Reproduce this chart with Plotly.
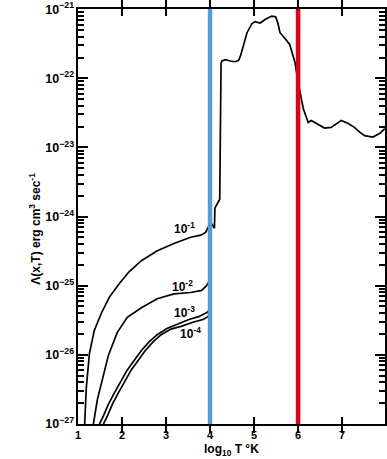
import plotly.graph_objects as go

# Cooling function Lambda(x, T) versus log10 T, for several ionisation fractions x.
# Values are log10 of Lambda in erg cm^3 s^-1.

# low-temperature branches, one per ionisation fraction
logt_x1 = [1.13, 1.15, 1.19, 1.26, 1.37, 1.53, 1.71, 1.94, 2.16, 2.44, 2.79, 3.18, 3.56, 3.79, 3.90, 3.97]
lam_x1 = [-27.3, -27.0, -26.47, -25.98, -25.65, -25.40, -25.17, -24.97, -24.80, -24.64, -24.50, -24.39, -24.30, -24.27, -24.23, -24.14]

logt_x2 = [1.33, 1.35, 1.44, 1.56, 1.69, 1.89, 2.12, 2.44, 2.80, 3.18, 3.56, 3.81, 3.92, 3.99]
lam_x2 = [-27.3, -27.0, -26.65, -26.32, -26.01, -25.68, -25.46, -25.32, -25.19, -25.12, -25.10, -25.07, -25.00, -24.93]

logt_x3 = [1.47, 1.49, 1.56, 1.69, 1.83, 1.98, 2.12, 2.28, 2.44, 2.62, 2.80, 3.02, 3.25, 3.52, 3.74, 3.93, 3.99]
lam_x3 = [-27.3, -27.0, -26.91, -26.72, -26.55, -26.37, -26.22, -26.08, -25.94, -25.81, -25.71, -25.62, -25.56, -25.49, -25.45, -25.39, -25.35]

logt_x4 = [1.56, 1.58, 1.65, 1.78, 1.92, 2.07, 2.21, 2.37, 2.53, 2.71, 2.89, 3.11, 3.34, 3.61, 3.84, 3.95, 3.99]
lam_x4 = [-27.3, -27.0, -26.91, -26.72, -26.55, -26.37, -26.22, -26.08, -25.94, -25.81, -25.71, -25.63, -25.59, -25.53, -25.49, -25.45, -25.42]

# high-temperature branch, common to all x
logt_hot = [3.97, 4.03, 4.10, 4.11, 4.22, 4.23, 4.235, 4.24, 4.25, 4.27, 4.35, 4.46, 4.57, 4.65,
            4.69, 4.77, 4.84, 4.95, 5.02, 5.14, 5.25, 5.40, 5.49, 5.54, 5.59, 5.70, 5.81, 5.93,
            6.00, 6.12, 6.23, 6.30, 6.45, 6.60, 6.75, 6.88, 6.98, 7.13, 7.28, 7.40, 7.51, 7.70, 7.85, 7.97]
lam_hot = [-24.14, -24.10, -24.17, -23.88, -23.75, -23.0, -22.3, -21.9, -21.78, -21.75, -21.73, -21.75, -21.76, -21.74,
           -21.68, -21.50, -21.34, -21.21, -21.18, -21.20, -21.15, -21.10, -21.11, -21.20, -21.34, -21.42, -21.51, -21.77,
           -22.06, -22.44, -22.64, -22.61, -22.67, -22.72, -22.71, -22.66, -22.61, -22.65, -22.71, -22.78, -22.83, -22.85, -22.80, -22.73]

# curve labels: text, log10 T, log10 Lambda
label_text = ["10<sup>-1</sup>", "10<sup>-2</sup>", "10<sup>-3</sup>", "10<sup>-4</sup>"]
label_logt = [3.43, 3.38, 3.43, 3.56]
label_lam = [-24.16, -25.0, -25.38, -25.69]

# decades on the y axis and the in-between minor tick multipliers
decades = [-27, -26, -25, -24, -23, -22]
minor_mult = [2, 3, 4, 5, 6, 7, 8, 9]

# reference temperatures marked with vertical lines
mark_logt = [4, 6]
mark_color = ["#5b9bd5", "#e0001b"]

fig = go.Figure()
for xs, ys in [(logt_x1, lam_x1), (logt_x2, lam_x2), (logt_x3, lam_x3),
               (logt_x4, lam_x4), (logt_hot, lam_hot)]:
    fig.add_trace(go.Scatter(x=xs, y=[10 ** v for v in ys], mode="lines",
                             line=dict(color="black", width=1.7),
                             showlegend=False, hoverinfo="skip"))
# invisible trace that carries the minor-tick axis
fig.add_trace(go.Scatter(x=[1.0], y=[1e-24], yaxis="y2", mode="markers",
                         marker=dict(opacity=0), showlegend=False, hoverinfo="skip"))

for t, c in zip(mark_logt, mark_color):
    fig.add_shape(type="line", x0=t, x1=t, xref="x", y0=0, y1=1, yref="paper",
                  line=dict(color=c, width=4.5), layer="above")

lab_font = dict(family="Liberation Sans", size=12, color="black", weight="bold")
for txt, lx, ly in zip(label_text, label_logt, label_lam):
    fig.add_annotation(x=lx, y=ly, xref="x", yref="y", text=txt, showarrow=False,
                       font=lab_font, xanchor="center", yanchor="middle")

fig.add_annotation(x=(35 - 78) / 309, y=(424 - 227) / 418, xref="paper", yref="paper",
                   text="Λ(x,T) erg cm<sup>3</sup> sec<sup>-1</sup>", textangle=-90,
                   showarrow=False, font=lab_font, xanchor="center", yanchor="middle")
fig.add_annotation(x=0.5, y=(424 - 450) / 418, xref="paper", yref="paper",
                   text="log<sub>10</sub> T °K", showarrow=False, font=lab_font,
                   xanchor="center", yanchor="middle")

tick_font = dict(family="Liberation Sans", size=11, color="black", weight="bold")
yrange = [-27.003, -20.997]
fig.update_xaxes(range=[1, 7.975], tickvals=[1, 2, 3, 4, 5, 6, 7],
                 ticks="inside", ticklen=7, tickwidth=2, tickcolor="black",
                 ticklabelstandoff=0,
                 showline=True, linewidth=2, linecolor="black", mirror="allticks",
                 showgrid=False, zeroline=False, tickfont=tick_font)
fig.update_layout(
    yaxis=dict(type="log", range=yrange, dtick=1, exponentformat="power",
               ticks="inside", ticklen=10, tickwidth=2, tickcolor="black",
               ticklabeloverflow="allow",
               showline=True, linewidth=2, linecolor="black", mirror="allticks",
               showgrid=False, zeroline=False,
               tickfont=dict(family="Liberation Sans", size=10, color="black", weight="bold")),
    yaxis2=dict(type="log", range=yrange, overlaying="y", side="left",
                tickmode="array", tickvals=[m * 10 ** d for d in decades for m in minor_mult],
                ticks="inside", ticklen=6, tickwidth=1.5, tickcolor="black",
                showticklabels=False, showline=True, linewidth=2, linecolor="black",
                mirror="allticks", showgrid=False, zeroline=False),
    width=387, height=459, margin=dict(l=78, r=0, t=6, b=35),
    paper_bgcolor="white", plot_bgcolor="white",
)

fig.write_html("out.html")
